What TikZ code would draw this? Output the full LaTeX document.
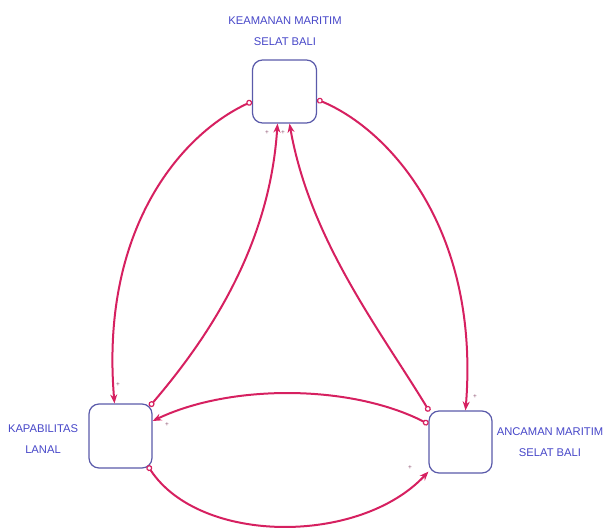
\documentclass[tikz,border=0pt]{standalone}
\usepackage{fontspec}
\setmainfont{Liberation Sans}
\usetikzlibrary{arrows.meta}
\definecolor{linkc}{RGB}{214,32,96}
\definecolor{boxc}{RGB}{90,90,170}
\definecolor{txtc}{RGB}{70,70,200}
\definecolor{signc}{RGB}{140,80,110}
\tikzset{
  varbox/.style={draw=boxc, line width=1.2pt, rounded corners=10pt, fill=white},
  vlabel/.style={text=txtc, align=center, font=\fontsize{11.2}{21}\selectfont, inner sep=0pt},
  link/.style={draw=linkc, line width=2pt, {Circle[open,length=6pt,width=6pt,line width=1.2pt]}-{Stealth[length=9pt,width=7pt]}},
  sign/.style={text=signc, font=\fontsize{6.5}{7}\selectfont, inner sep=0pt}
}
\begin{document}
\begin{tikzpicture}[x=1pt,y=-1pt]
\useasboundingbox (0,0) rectangle (604,530);
\node[varbox, minimum width=64pt, minimum height=63pt] (top) at (284.5,91.5) {};
\node[varbox, minimum width=63pt, minimum height=64pt] (left) at (120.5,436) {};
\node[varbox, minimum width=63pt, minimum height=62pt] (right) at (460.5,442) {};
\node[vlabel] (toplab) at (285,31) {KEAMANAN MARITIM\\SELAT BALI};
\node[vlabel] (leftlab) at (43,439) {KAPABILITAS\\LANAL};
\node[vlabel] (rightlab) at (550,442) {ANCAMAN MARITIM\\SELAT BALI};
% connectors
\draw[link] ([yshift=-10pt]top.west) .. controls (180,135) and (100,230) .. ([xshift=-6pt]left.north);
\draw[link] ([yshift=-8pt]top.east) .. controls (390,130) and (480,230) .. ([xshift=5pt]right.north);
\draw[link] ([xshift=-3pt,yshift=-3pt]left.north east) .. controls (215,330) and (270,240) .. ([xshift=-7pt]top.south);
\draw[link] ([xshift=1pt,yshift=-1pt]right.north west) .. controls (380,330) and (310,240) .. ([xshift=5pt]top.south);
\draw[link] ([yshift=18pt]right.west) .. controls (350,384) and (230,384) .. ([yshift=15pt]left.east);
\draw[link] ([xshift=-5pt,yshift=3pt]left.south east) .. controls (200,545) and (360,545) .. ([yshift=2pt]right.south west);
% polarity signs
\node[sign] (s1) at (267,133) {+};
\node[sign] (s2) at (283,133) {+};
\node[sign] (s3) at (118,385) {+};
\node[sign] (s4) at (167,425) {+};
\node[sign] (s5) at (475,397) {+};
\node[sign] (s6) at (410,468) {+};
\end{tikzpicture}
\end{document}
